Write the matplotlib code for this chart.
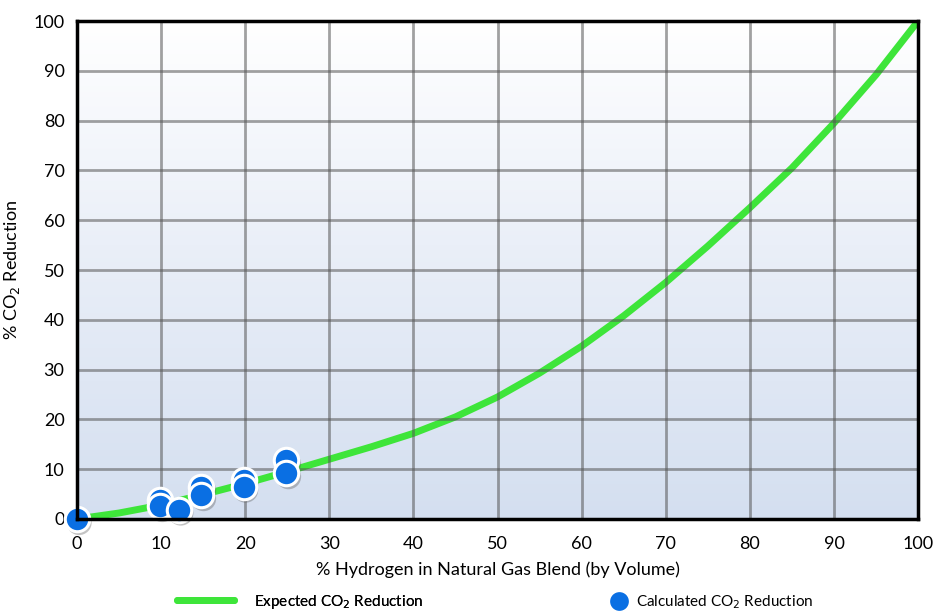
import numpy as np
import matplotlib.pyplot as plt
from matplotlib.lines import Line2D

plt.rcParams['font.family'] = ['Lato', 'DejaVu Sans']

# expected reduction curve
h2_pct = [0, 5, 10, 15, 20, 25, 30, 35, 40, 45, 50, 55, 60, 65, 70, 75, 80, 85, 90, 95, 100]
co2_expected = [0, 1.2, 2.8, 4.9, 7.1, 9.5, 12.0, 14.5, 17.2, 20.5, 24.5, 29.3, 34.7, 40.8, 47.5, 54.8, 62.5, 70.5, 79.5, 89.2, 100]

# calculated points
calc_h2 = [0, 9.9, 9.9, 12.1, 14.8, 14.8, 19.8, 19.8, 24.9, 24.9]
calc_co2 = [0, 3.8, 2.6, 1.9, 6.5, 4.8, 7.8, 6.5, 11.8, 9.2]

green = '#3ee53a'
blue = '#0a6fe3'

fig = plt.figure(figsize=(9.33, 6.11), dpi=100)
ax = fig.add_axes([0.0825, 0.1506, 0.9015, 0.815])

# background gradient light blue (bottom) -> white (top)
grad = np.linspace(0, 1, 256).reshape(-1, 1)
cmap = plt.matplotlib.colors.LinearSegmentedColormap.from_list(
    'bg', [(0, '#d4dff0'), (0.55, '#eaeff8'), (1, '#ffffff')])
ax.imshow(grad, extent=[0, 100, 0, 100], origin='lower', aspect='auto', cmap=cmap, zorder=0)

ax.plot(h2_pct, co2_expected, color=green, lw=5, solid_capstyle='round', solid_joinstyle='round', zorder=2)
ax.scatter(np.array(calc_h2) + 0.25, np.array(calc_co2) - 0.7, s=330, color='#555555', alpha=0.35,
           edgecolors='none', zorder=3, clip_on=False)
ax.scatter(calc_h2, calc_co2, s=310, color=blue, edgecolors='white', linewidths=2.2, zorder=4, clip_on=False)

ax.set_xlim(0, 100)
ax.set_ylim(0, 100)
ax.set_xticks(range(0, 101, 10))
ax.set_yticks(range(0, 101, 10))
ax.grid(True, color='#555555', alpha=0.55, lw=2)
ax.set_axisbelow(False)
ax.tick_params(length=0, labelsize=13)
ax.tick_params(axis='x', pad=12)
ax.tick_params(axis='y', pad=9)
for s in ax.spines.values():
    s.set_linewidth(2.5)
    s.set_zorder(5)

ax.set_xlabel('% Hydrogen in Natural Gas Blend (by Volume)', fontsize=13, labelpad=7)
ax.set_ylabel('% CO$_2$ Reduction', fontsize=13, labelpad=8)

h1 = Line2D([], [], color=green, lw=5, solid_capstyle='round')
h2 = Line2D([], [], marker='o', ls='', markersize=15, markerfacecolor=blue,
            markeredgecolor='white', markeredgewidth=1.5)
leg1 = fig.legend([h1], ['Expected CO$_2$ Reduction'], loc='center left',
                  bbox_to_anchor=(0.190, 0.015), frameon=False, fontsize=11,
                  borderpad=0, borderaxespad=0, handlelength=3.7, handletextpad=1.3)
fig.add_artist(leg1)
fig.legend([h2], ['Calculated CO$_2$ Reduction'], loc='center left',
           bbox_to_anchor=(0.655, 0.015), frameon=False, fontsize=11,
           borderpad=0, borderaxespad=0, handlelength=1.0, handletextpad=0.6)

fig.savefig('out.png', dpi=100)
